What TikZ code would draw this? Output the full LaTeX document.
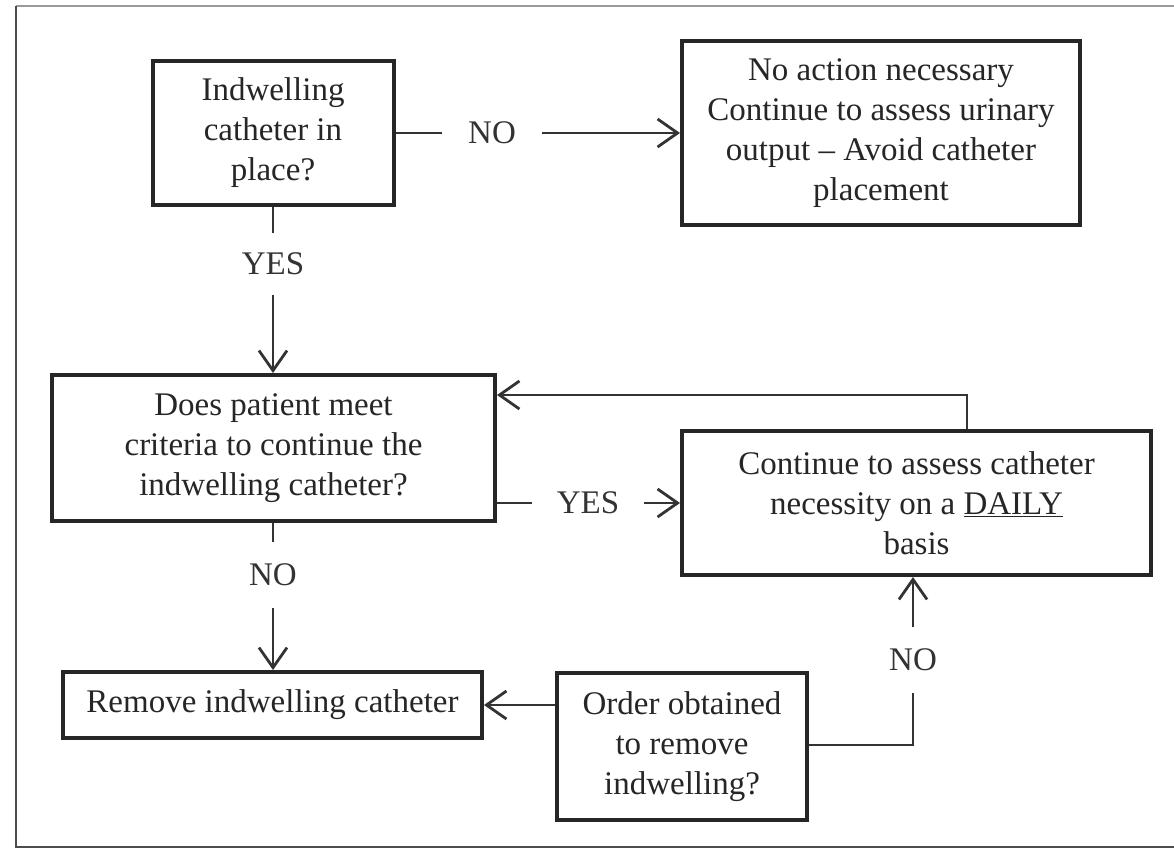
\documentclass[tikz,border=0pt]{standalone}
\usepackage{fontspec}
\setmainfont{Liberation Serif}
\usetikzlibrary{arrows.meta}
\begin{document}
\begin{tikzpicture}[x=1pt,y=-1pt,
 box/.style={draw=black!85, line width=4pt, align=center, inner sep=0pt, text=black!85, font=\fontsize{33}{40}\selectfont},
 lbl/.style={inner sep=0pt, text=black!80, font=\fontsize{33}{40}\selectfont},
 conn/.style={draw=black!80, line width=2.8pt},
 arr/.style={conn, -{Straight Barb[length=20pt,width=28pt,line width=2.8pt]}}]
\useasboundingbox (0,0) rectangle (1174,848);
\fill[white] (0,0) rectangle (1174,848);
% frame
\draw[gray!80, line width=1.6pt] (16,6) -- (1180,6);
\draw[black!70, line width=2pt] (16,6) -- (16,847) -- (1180,847);
% boxes
\node[box, minimum width=241pt, minimum height=143pt] (b1) at (273,133) {Indwelling\\catheter in\\place?};
\node[box, minimum width=398pt, minimum height=184pt] (b2) at (881,133) {No action necessary\\Continue to assess urinary\\output -- Avoid catheter\\placement};
\node[box, minimum width=443pt, minimum height=146pt] (b3) at (273.5,448) {Does patient meet\\criteria to continue the\\indwelling catheter?};
\node[box, minimum width=469pt, minimum height=144pt] (b4) at (916.5,503) {Continue to assess catheter\\necessity on a \underline{DAILY}\\basis};
\node[box, minimum width=419pt, minimum height=66pt] (b5) at (272.5,705) {Remove indwelling catheter};
\node[box, minimum width=250pt, minimum height=147pt] (b6) at (682,746.5) {Order obtained\\to remove\\indwelling?};
% labels
\node[lbl, minimum width=100pt] (no1) at (492,133) {NO};
\node[lbl, minimum height=62pt] (yes1) at (273,264) {YES};
\node[lbl, minimum width=111pt] (yes2) at (588,503) {YES};
\node[lbl, minimum height=65pt] (no2) at (273,575) {NO};
\node[lbl, minimum height=65pt] (no3) at (913,660) {NO};
% connectors
\draw[conn] (b1.east) -- (no1.west);
\draw[arr] (no1.east) -- (no1.east -| b2.west);
\draw[conn] (yes1.north |- b1.south) -- (yes1.north);
\draw[arr] (yes1.south) -- (yes1.south |- b3.north);
\draw[conn] (no2.north |- b3.south) -- (no2.north);
\draw[arr] (no2.south) -- (no2.south |- b5.north);
\draw[conn] (yes2.west -| b3.east) -- (yes2.west);
\draw[arr] (yes2.east) -- (yes2.east -| b4.west);
\coordinate (lp) at (967,395);
\draw[arr] (lp |- b4.north) -- (lp) -- (lp -| b3.east);
\draw[arr] (b6.west |- b5.east) -- (b5.east);
\coordinate (c3) at (913,745);
\draw[conn] (c3 -| b6.east) -- (c3) -- (no3.south);
\draw[arr] (no3.north) -- (no3.north |- b4.south);
\end{tikzpicture}
\end{document}
